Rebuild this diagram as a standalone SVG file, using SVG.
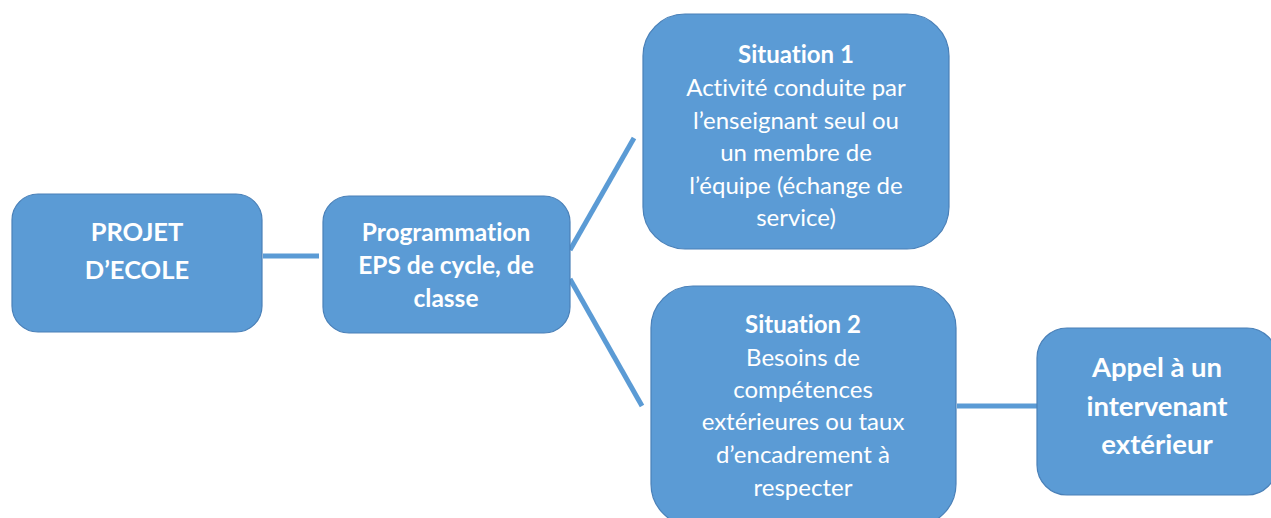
<svg xmlns="http://www.w3.org/2000/svg" width="1271" height="518" viewBox="0 0 1271 518">
<style>
.box{fill:#5B9BD5;stroke:#4A80B8;stroke-width:1.2}
.t{font-family:Lato,"Open Sans","Liberation Sans",sans-serif;fill:#FFFFFF;text-anchor:middle;font-variant-ligatures:none;font-feature-settings:"liga" 0}
.b{font-weight:bold}
.conn line{stroke:#5B9BD5;stroke-width:5;stroke-linecap:butt}
</style>
<rect width="1271" height="518" fill="#FFFFFF"/>
<g class="conn" id="connectors">
<line x1="263" y1="256" x2="319" y2="256"/>
<line x1="570" y1="250" x2="634" y2="138"/>
<line x1="570" y1="279" x2="642" y2="406"/>
<line x1="957" y1="406" x2="1037" y2="406"/>
</g>
<g id="projet">
<rect class="box" x="12" y="194" width="250" height="138" rx="26"/>
<text class="t b" font-size="25.5" x="137" y="241">PROJET</text>
<text class="t b" font-size="25.5" x="137" y="279">D’ECOLE</text>
</g>
<g id="programmation">
<rect class="box" x="323" y="196" width="247" height="137" rx="26"/>
<text class="t b" font-size="24.5" x="446" y="241">Programmation</text>
<text class="t b" font-size="24.5" x="446" y="274">EPS de cycle, de</text>
<text class="t b" font-size="24.5" x="446" y="307">classe</text>
</g>
<g id="situation1">
<rect class="box" x="643" y="14" width="306" height="235" rx="42"/>
<text class="t b" font-size="24" x="796" y="63">Situation 1</text>
<text class="t" font-size="24" x="796" y="96">Activité conduite par</text>
<text class="t" font-size="24" x="796" y="129">l’enseignant seul ou</text>
<text class="t" font-size="24" x="796" y="161">un membre de</text>
<text class="t" font-size="24" x="796" y="194">l’équipe (échange de</text>
<text class="t" font-size="24" x="796" y="226">service)</text>
</g>
<g id="situation2">
<rect class="box" x="651" y="286" width="305" height="240" rx="42"/>
<text class="t b" font-size="24" x="803" y="333">Situation 2</text>
<text class="t" font-size="24" x="803" y="366">Besoins de</text>
<text class="t" font-size="24" x="803" y="398">compétences</text>
<text class="t" font-size="24" x="803" y="430">extérieures ou taux</text>
<text class="t" font-size="24" x="803" y="463">d’encadrement à</text>
<text class="t" font-size="24" x="803" y="496">respecter</text>
</g>
<g id="appel">
<rect class="box" x="1037" y="328" width="240" height="167" rx="30"/>
<text class="t b" font-size="27.5" x="1157" y="377">Appel à un</text>
<text class="t b" font-size="27.5" x="1157" y="416">intervenant</text>
<text class="t b" font-size="27.5" x="1157" y="454">extérieur</text>
</g>
</svg>
